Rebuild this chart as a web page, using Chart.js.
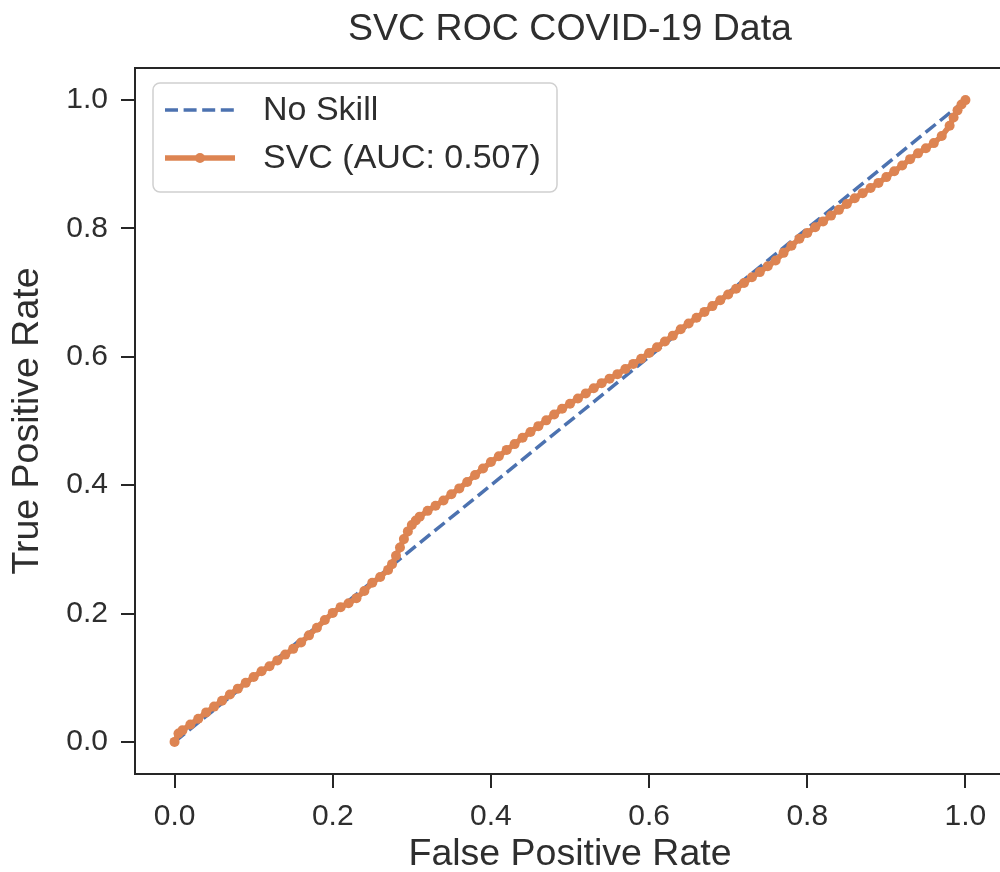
<!DOCTYPE html>
<html>
<head>
<meta charset="utf-8">
<script src="https://cdn.jsdelivr.net/npm/chart.js@4/dist/chart.umd.min.js"></script>
<style>
  html, body { margin: 0; padding: 0; background: #fff; overflow: hidden; }
  #roc { display: block; }
</style>
</head>
<body>
<canvas id="roc" width="1010" height="872"></canvas>
<script>
// ROC data
const fpr = [0, 0.005, 0.01, 0.02, 0.03, 0.04, 0.05, 0.06, 0.07, 0.08, 0.09, 0.10,
  0.11, 0.12, 0.13, 0.14, 0.15, 0.16, 0.17, 0.18, 0.19, 0.20, 0.21, 0.22, 0.23,
  0.24, 0.25, 0.26, 0.27, 0.275, 0.28, 0.285, 0.29, 0.295, 0.30, 0.305, 0.31,
  0.32, 0.33, 0.34, 0.35, 0.36, 0.37, 0.38, 0.39, 0.40, 0.41, 0.42, 0.43, 0.44,
  0.45, 0.46, 0.47, 0.48, 0.49, 0.50, 0.51, 0.52, 0.53, 0.54, 0.55, 0.56, 0.57,
  0.58, 0.59, 0.60, 0.61, 0.62, 0.63, 0.64, 0.65, 0.66, 0.67, 0.68, 0.69, 0.70,
  0.71, 0.72, 0.73, 0.74, 0.75, 0.76, 0.77, 0.78, 0.79, 0.80, 0.81, 0.82, 0.83,
  0.84, 0.85, 0.86, 0.87, 0.88, 0.89, 0.90, 0.91, 0.92, 0.93, 0.94, 0.95, 0.96,
  0.97, 0.98, 0.985, 0.99, 0.995, 1.0];
const tpr = [0, 0.013, 0.018, 0.027, 0.036, 0.046, 0.055, 0.064, 0.074, 0.083, 0.092, 0.101,
  0.110, 0.118, 0.127, 0.136, 0.145, 0.155, 0.166, 0.178, 0.190, 0.201, 0.210, 0.216, 0.224,
  0.235, 0.248, 0.257, 0.268, 0.277, 0.290, 0.303, 0.316, 0.328, 0.338, 0.345, 0.351,
  0.360, 0.368, 0.376, 0.386, 0.395, 0.405, 0.416, 0.426, 0.436, 0.445, 0.455, 0.464, 0.474,
  0.483, 0.492, 0.501, 0.510, 0.519, 0.527, 0.535, 0.543, 0.551, 0.559, 0.566, 0.573, 0.581,
  0.589, 0.597, 0.606, 0.615, 0.624, 0.633, 0.643, 0.652, 0.661, 0.670, 0.679, 0.688, 0.697,
  0.706, 0.715, 0.724, 0.732, 0.741, 0.750, 0.762, 0.773, 0.784, 0.793, 0.802, 0.811, 0.820,
  0.829, 0.838, 0.847, 0.855, 0.863, 0.871, 0.880, 0.889, 0.898, 0.908, 0.917, 0.925, 0.933,
  0.944, 0.960, 0.973, 0.984, 0.993, 1.0];
const noSkillFpr = [0, 1];
const noSkillTpr = [0, 1];
const tickValues = [0, 0.2, 0.4, 0.6, 0.8, 1.0];
const tickLabels = ["0.0", "0.2", "0.4", "0.6", "0.8", "1.0"];

const textColor = "#2e2e2e";
const fontFamily = "'Liberation Sans', Arial, sans-serif";

function toPoints(xs, ys) {
  return xs.map((x, i) => ({ x: x, y: ys[i] }));
}

// box around the plot area (seaborn "ticks" style)
const framePlugin = {
  id: "frame",
  afterDraw(chart) {
    const { ctx, chartArea: a } = chart;
    ctx.save();
    ctx.strokeStyle = "#262626";
    ctx.lineWidth = 2;
    ctx.strokeRect(a.left, a.top, a.right - a.left, a.bottom - a.top);
    ctx.restore();
  },
};

// legend drawn inside the plot, top left
const innerLegend = {
  id: "innerLegend",
  afterDraw(chart) {
    const { ctx, chartArea: a } = chart;
    const x = a.left + 18, y = a.top + 15, w = 404, h = 109;
    ctx.save();
    ctx.beginPath();
    ctx.roundRect(x, y, w, h, 7);
    ctx.fillStyle = "rgba(255,255,255,0.85)";
    ctx.fill();
    ctx.strokeStyle = "#d0d0d0";
    ctx.lineWidth = 1.5;
    ctx.stroke();
    chart.data.datasets.forEach((ds, i) => {
      const rowY = y + 27 + i * 48;
      ctx.beginPath();
      ctx.setLineDash(ds.borderDash || []);
      ctx.strokeStyle = ds.borderColor;
      ctx.lineWidth = ds.borderWidth;
      ctx.moveTo(x + 12, rowY);
      ctx.lineTo(x + 82, rowY);
      ctx.stroke();
      ctx.setLineDash([]);
      if (ds.pointRadius > 0) {
        ctx.beginPath();
        ctx.fillStyle = ds.borderColor;
        ctx.arc(x + 47, rowY, ds.pointRadius, 0, Math.PI * 2);
        ctx.fill();
      }
      ctx.fillStyle = textColor;
      ctx.font = "34px " + fontFamily;
      ctx.textBaseline = "middle";
      ctx.fillText(ds.label, x + 110, rowY + 1);
    });
    ctx.restore();
  },
};

function axisOptions(title, fitSize, horizontal) {
  return {
    type: "linear",
    min: -0.05,
    max: 1.05,
    afterBuildTicks: (s) => { s.ticks = tickValues.map((v) => ({ value: v })); },
    afterFit: (s) => { if (horizontal) s.height = fitSize; else s.width = fitSize; },
    border: { display: false },
    grid: {
      drawOnChartArea: false,
      drawTicks: true,
      tickLength: 14,
      lineWidth: 2,
      color: "#262626",
    },
    ticks: {
      padding: horizontal ? 11 : 13,
      color: textColor,
      font: { family: fontFamily, size: 30 },
      callback: (v) => tickLabels[tickValues.indexOf(v)],
    },
    title: {
      display: true,
      text: title,
      color: textColor,
      font: { family: fontFamily, size: 37.5, lineHeight: horizontal ? 0.9 : 1 },
      padding: horizontal ? { top: 0, bottom: 0 } : { top: 9, bottom: 0 },
    },
  };
}

new Chart(document.getElementById("roc"), {
  type: "scatter",
  data: {
    datasets: [
      {
        label: "No Skill",
        data: toPoints(noSkillFpr, noSkillTpr),
        showLine: true,
        borderColor: "#4C72B0",
        backgroundColor: "#4C72B0",
        borderWidth: 3.5,
        borderDash: [13, 5.6],
        pointRadius: 0,
        order: 1,
      },
      {
        label: "SVC (AUC: 0.507)",
        data: toPoints(fpr, tpr),
        showLine: true,
        borderColor: "#DD8452",
        backgroundColor: "#DD8452",
        borderWidth: 5.5,
        pointRadius: 5,
        pointBorderWidth: 0,
        order: 0,
      },
    ],
  },
  options: {
    responsive: false,
    animation: false,
    layout: { padding: { top: 0, left: 0, right: 2, bottom: 0 } },
    plugins: {
      legend: { display: false },
      tooltip: { enabled: false },
      title: {
        display: true,
        fullSize: false,
        text: "SVC ROC COVID-19 Data",
        color: textColor,
        font: { family: fontFamily, size: 37.5, weight: "normal", lineHeight: 1 },
        padding: { top: 11, bottom: 19.5 },
      },
    },
    scales: {
      x: axisOptions("False Positive Rate", 98, true),
      y: axisOptions("True Positive Rate", 135, false),
    },
  },
  plugins: [framePlugin, innerLegend],
});
</script>
</body>
</html>
